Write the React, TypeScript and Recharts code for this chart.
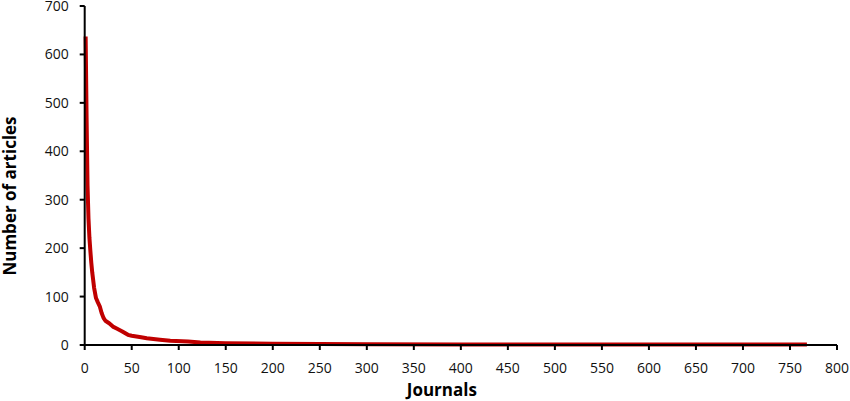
import React from "react";
import { LineChart, Line, XAxis, YAxis } from "recharts";

const journals = [1, 2, 3, 4, 5, 6, 7, 8, 9, 10, 12, 14, 16, 18, 20, 22, 26, 30, 34, 40, 46, 50, 60, 66, 80, 91, 110, 123, 150, 200, 250, 300, 400, 768];
const articles = [637, 470, 330, 262, 222, 195, 170, 150, 134, 118, 97, 88, 80, 66, 56, 50, 45, 38, 34, 28, 21, 19, 16, 14, 11, 9, 7, 5, 3.5, 2.5, 2, 1.5, 1, 1];
const xTicks = [0, 50, 100, 150, 200, 250, 300, 350, 400, 450, 500, 550, 600, 650, 700, 750, 800];
const yTicks = [0, 100, 200, 300, 400, 500, 600, 700];

const data = journals.map((j, i) => ({ j, n: articles[i] }));

const FONT = "'Open Sans', sans-serif";
const tickStyle = { fontSize: 14, fill: "#111", fontFamily: FONT };

export default function App() {
  return (
    <div style={{ position: "absolute", left: 0, top: 0, background: "#fff" }}>
      <LineChart width={850} height={401} data={data} margin={{ top: 6, right: 13, left: 0, bottom: 0 }}>
        <XAxis
          type="number"
          dataKey="j"
          domain={[0, 800]}
          ticks={xTicks}
          interval={0}
          height={56}
          tick={tickStyle}
          tickSize={5}
          tickMargin={13}
          axisLine={{ stroke: "#000", strokeWidth: 2 }}
          tickLine={{ stroke: "#000", strokeWidth: 2 }}
          label={(props: any) => {
            const vb = props.viewBox;
            return (
              <text
                x={vb.x + vb.width / 2 - 19}
                y={vb.y + vb.height - 5}
                textAnchor="middle"
                style={{ fontFamily: FONT, fontWeight: 700, fontSize: 17, fill: "#000" }}
              >
                Journals
              </text>
            );
          }}
        />
        <YAxis
          type="number"
          domain={[0, 700]}
          ticks={yTicks}
          interval={0}
          width={84.7}
          tick={tickStyle}
          tickSize={5}
          tickMargin={11}
          axisLine={{ stroke: "#000", strokeWidth: 2 }}
          tickLine={{ stroke: "#000", strokeWidth: 2 }}
          label={(props: any) => {
            const vb = props.viewBox;
            const cy = vb.y + vb.height / 2 + 20.5;
            return (
              <text
                x={0}
                y={0}
                transform={`translate(${vb.x + 16}, ${cy}) rotate(-90)`}
                textAnchor="middle"
                style={{ fontFamily: FONT, fontWeight: 700, fontSize: 17, fill: "#000" }}
              >
                Number of articles
              </text>
            );
          }}
        />
        <Line
          type="linear"
          dataKey="n"
          stroke="#C00000"
          strokeWidth={4}
          dot={false}
          isAnimationActive={false}
          strokeLinejoin="round"
        />
      </LineChart>
    </div>
  );
}
